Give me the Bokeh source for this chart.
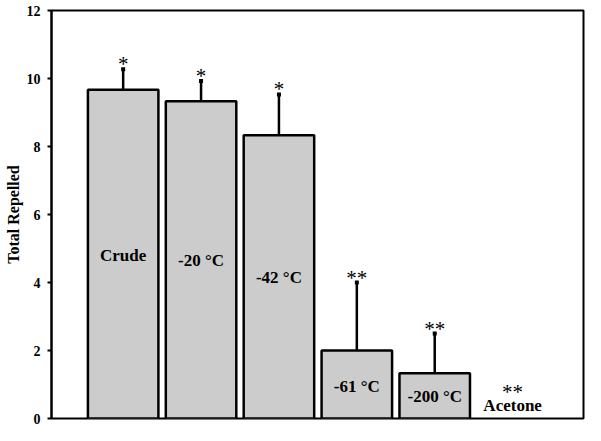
from bokeh.plotting import figure
from bokeh.models import ColumnDataSource, Range1d, FixedTicker
from bokeh.core.properties import value
from bokeh.embed import file_html
from bokeh.resources import INLINE

categories = ["Crude", "-20 °C", "-42 °C", "-61 °C", "-200 °C", "Acetone"]
means = [9.67, 9.33, 8.33, 2.0, 1.33, 0.0]
errors = [0.6, 0.6, 1.2, 2.0, 1.17, 0.0]
significance = ["*", "*", "*", "**", "**", "**"]
label_y = [4.78, 4.64, 4.15, 0.95, 0.66, 0.37]
y_ticks = [0, 2, 4, 6, 8, 10, 12]

xs = list(range(len(categories)))
tops = [m + e for m, e in zip(means, errors)]
star_y = [t if t > 0 else 0.62 for t in tops]

bars = ColumnDataSource(dict(x=xs[:5], top=means[:5]))
src = ColumnDataSource(dict(x=xs, mean=means, top=tops, cat=categories,
                            ly=label_y, sig=significance, sy=star_y))
err_src = ColumnDataSource(dict(x=xs[:5], mean=means[:5], top=tops[:5]))

SERIF = value("Liberation Serif")

p = figure(width=585, height=425, output_backend="svg", toolbar_location=None,
           x_range=Range1d(-0.92, 5.91), y_range=Range1d(0, 12),
           min_border_left=51, min_border_right=2, min_border_top=10,
           min_border_bottom=7)
p.grid.visible = False
p.xaxis.visible = False
p.outline_line_color = "black"
p.outline_line_width = 2
p.outline_line_alpha = 1

ya = p.yaxis[0]
ya.ticker = FixedTicker(ticks=y_ticks)
ya.minor_tick_line_color = None
ya.major_tick_in = 0
ya.major_tick_out = 4
ya.major_tick_line_width = 2
ya.axis_line_width = 2
ya.major_label_text_font = "Liberation Serif"
ya.major_label_text_font_style = "bold"
ya.major_label_text_font_size = "14px"
ya.major_label_text_color = "black"
ya.major_label_standoff = 7
ya.axis_label = "Total Repelled"
ya.axis_label_text_font = "Liberation Serif"
ya.axis_label_text_font_style = "bold"
ya.axis_label_text_font_size = "16px"
ya.axis_label_text_color = "black"
ya.axis_label_standoff = 2

p.vbar(x="x", top="top", bottom=0, width=0.905, source=bars,
       fill_color="#cccccc", line_color="black", line_width=2.5)

p.segment(x0="x", y0="mean", x1="x", y1="top", source=err_src,
          line_color="black", line_width=2.5)
p.segment(x0="x", y0="top", x1="x", y1="top", source=err_src,
          line_color="black", line_width=4, line_cap="square")

p.text(x="x", y="ly", text="cat", source=src, text_font=SERIF,
       text_font_style="bold", text_font_size="17px", text_align="center",
       text_baseline="middle", text_color="black")
p.text(x="x", y="sy", text="sig", source=src, text_font=SERIF,
       text_font_size="21px", text_align="center",
       text_baseline="alphabetic", y_offset=-5, text_color="black")

open("out.html", "w").write(file_html(p, INLINE))
